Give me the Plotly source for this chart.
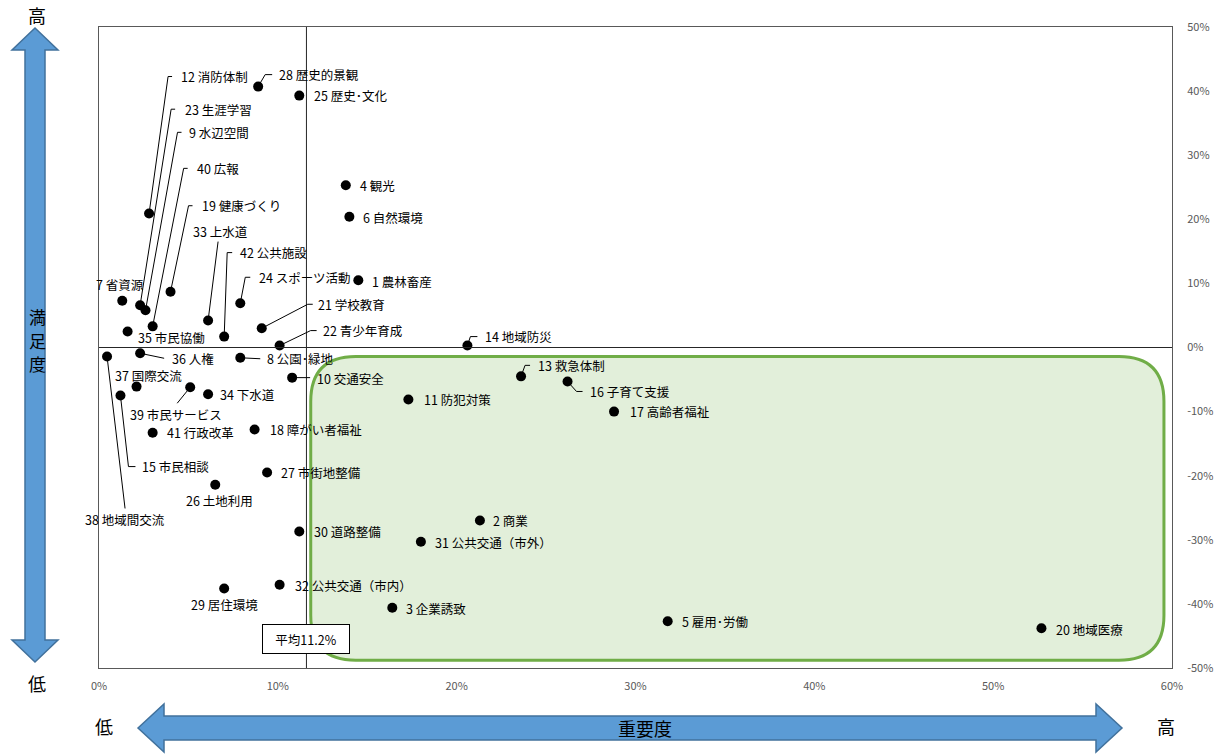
import plotly.graph_objects as go

# ---------------- data ----------------
item_no = list(range(1, 43))
item_name = [
    "農林畜産", "商業", "企業誘致", "観光", "雇用･労働", "自然環境", "省資源", "公園･緑地",
    "水辺空間", "交通安全", "防犯対策", "消防体制", "救急体制", "地域防災", "市民相談",
    "子育て支援", "高齢者福祉", "障がい者福祉", "健康づくり", "地域医療", "学校教育",
    "青少年育成", "生涯学習", "スポーツ活動", "歴史･文化", "土地利用", "市街地整備",
    "歴史的景観", "居住環境", "道路整備", "公共交通（市外）", "公共交通（市内）", "上水道",
    "下水道", "市民協働", "人権", "国際交流", "地域間交流", "市民サービス", "広報",
    "行政改革", "公共施設",
]
importance = [14.5, 21.3, 16.4, 13.8, 31.8, 14.0, 1.3, 7.9, 2.6, 10.8, 17.3, 2.8, 23.6, 20.6,
              1.2, 26.2, 28.8, 8.7, 4.0, 52.7, 9.1, 10.1, 2.3, 7.9, 11.2, 6.5, 9.4, 8.9, 7.0,
              11.2, 18.0, 10.1, 6.1, 6.1, 1.6, 2.3, 2.1, 0.45, 5.1, 3.0, 3.0, 7.0]
satisfaction = [10.5, -27.0, -40.6, 25.3, -42.7, 20.4, 7.3, -1.6, 5.8, -4.7, -8.1, 20.9, -4.5,
                0.3, -7.5, -5.3, -10.0, -12.8, 8.7, -43.8, 3.0, 0.3, 6.6, 6.9, 39.3, -21.4,
                -19.5, 40.7, -37.6, -28.7, -30.3, -37.0, 4.2, -7.3, 2.5, -0.9, -6.1, -1.4,
                -6.2, 3.3, -13.3, 1.7]
mean_line_x = 11.6
mean_label = "平均11.2%"
x_ticks = [0, 10, 20, 30, 40, 50, 60]
y_ticks = [-50, -40, -30, -20, -10, 0, 10, 20, 30, 40, 50]
highlight_x = [11.84, 59.55]
highlight_y = [-48.8, -1.4]
y_title_chars = ["満", "足", "度"]

# ---------------- label layout (screen px offsets from dot, y down) ----------------
# no: (anchor, dx, dy, leader polyline points or None)
label_layout = {
    1: ("left", 12, 1, None), 2: ("left", 11, 0, None), 3: ("left", 12, 1, None),
    4: ("left", 12, 0, None), 5: ("left", 12, 0, None), 6: ("left", 12, 1, None),
    7: ("center", -2, -16, None),
    8: ("left", 25, 1, [(0, 0), (20, 1)]),
    9: ("left", 41, -178, [(0, 0), (32, -178), (36, -178)]),
    10: ("left", 23, 1, [(0, 0), (18, 0)]),
    11: ("left", 14, 0, None),
    12: ("left", 30, -137, [(0, 0), (19, -137), (23, -137)]),
    13: ("left", 15, -11, [(0, 0), (4, -11), (9, -11)]),
    14: ("left", 16, -9, [(0, 0), (3, -9), (10, -9)]),
    15: ("left", 20, 71, [(0, 0), (8, 71), (15, 71)]),
    16: ("left", 20, 10, [(0, 0), (9, 10), (15, 10)]),
    17: ("left", 14, 0, None), 18: ("left", 13, 0, None),
    19: ("left", 29, -86, [(0, 0), (18, -86), (22, -86)]),
    20: ("left", 13, 1, None),
    21: ("left", 54, -24, [(0, 0), (46, -24), (51, -24)]),
    22: ("left", 41, -15, [(0, 0), (31, -15), (37, -15)]),
    23: ("left", 43, -196, [(0, 0), (31, -196), (35, -196)]),
    24: ("left", 17, -26, [(0, 0), (5, -26), (10, -26)]),
    25: ("left", 13, 0, None),
    26: ("center", 4, 16, None),
    27: ("left", 12, 0, None),
    28: ("left", 19, -12, [(0, 0), (7, -12), (14, -12)]),
    29: ("center", 0, 16, None),
    30: ("left", 13, 0, None), 31: ("left", 12, 1, None), 32: ("left", 13, 1, None),
    33: ("left", -17, -89, [(0, 0), (10, -79)]),
    34: ("left", 10, 0, None),
    35: ("left", 8, 6, None),
    36: ("left", 30, 5, [(0, 0), (24, 5)]),
    37: ("center", 12, -11, None),
    38: ("center", 18, 163, [(0, 0), (18, 152)]),
    39: ("center", -14, 27, [(0, 0), (-13, 16)]),
    40: ("left", 42, -158, [(0, 0), (31, -158), (35, -158)]),
    41: ("left", 12, 0, None),
    42: ("left", 14, -84, [(0, 0), (3, -84), (8, -84)]),
}

# ---------------- figure geometry ----------------
W, H = 1220, 754
ML, MR, MT, MB = 99, 48, 27, 86
PW, PH = W - ML - MR, H - MT - MB
JP = "Noto Sans CJK JP"


def pxp(x):
    return (x - ML) / PW


def pyp(y):
    return (H - MB - y) / PH


fig = go.Figure()

# highlight rounded rectangle
x_span = x_ticks[-1] - x_ticks[0]
y_span = y_ticks[-1] - y_ticks[0]
rx = 45 * x_span / PW
ry = 45 * y_span / PH
x0, x1 = highlight_x
y0, y1 = highlight_y
rr = (f"M {x0 + rx} {y1} L {x1 - rx} {y1} Q {x1} {y1} {x1} {y1 - ry} "
      f"L {x1} {y0 + ry} Q {x1} {y0} {x1 - rx} {y0} L {x0 + rx} {y0} "
      f"Q {x0} {y0} {x0} {y0 + ry} L {x0} {y1 - ry} Q {x0} {y1} {x0 + rx} {y1} Z")
fig.add_shape(type="path", path=rr, xref="x", yref="y", fillcolor="#E2EFDA",
              line=dict(color="#70AD47", width=3), layer="below")

# reference lines
fig.add_shape(type="line", x0=mean_line_x, x1=mean_line_x, y0=y_ticks[0], y1=y_ticks[-1],
              xref="x", yref="y", line=dict(color="#262626", width=1))
fig.add_shape(type="line", x0=x_ticks[0], x1=x_ticks[-1], y0=0, y1=0,
              xref="x", yref="y", line=dict(color="#262626", width=1))

# leaders
for i, no in enumerate(item_no):
    anchor, dx, dy, leader = label_layout[no]
    if leader:
        path = "M " + " L ".join(f"{a} {-b}" for a, b in leader)
        fig.add_shape(type="path", path=path, xref="x", yref="y",
                      xsizemode="pixel", ysizemode="pixel",
                      xanchor=importance[i], yanchor=satisfaction[i],
                      line=dict(color="black", width=1))

fig.add_trace(go.Scatter(
    x=importance, y=satisfaction, mode="markers",
    marker=dict(color="black", size=10), hoverinfo="text",
    text=[f"{n} {t}" for n, t in zip(item_no, item_name)], showlegend=False,
))

for i, no in enumerate(item_no):
    anchor, dx, dy, leader = label_layout[no]
    fig.add_annotation(x=importance[i], y=satisfaction[i], xref="x", yref="y",
                       text=f"{no} {item_name[i]}", showarrow=False,
                       xanchor=anchor, yanchor="middle", xshift=dx, yshift=-dy,
                       font=dict(family=JP, size=12.5, color="black"))

# mean label box
fig.add_annotation(x=mean_line_x, y=pyp(639), xref="x", yref="paper",
                   text=mean_label, showarrow=False, bgcolor="white",
                   xanchor="center", yanchor="middle", width=84, height=26,
                   bordercolor="black", borderwidth=1, borderpad=1,
                   font=dict(family=JP, size=12.5, color="black"))

# axis arrows
def poly(points):
    return "M " + " L ".join(f"{pxp(a)} {pyp(b)}" for a, b in points) + " Z"


v_arrow = [(35, 28), (58, 50), (45, 50), (45, 640), (58, 640), (35, 662), (12, 640),
           (25, 640), (25, 50), (12, 50)]
h_arrow = [(138, 728), (164, 704), (164, 716), (1096, 716), (1096, 704), (1122, 728),
           (1096, 752), (1096, 740), (164, 740), (164, 752)]
for pts in (v_arrow, h_arrow):
    fig.add_shape(type="path", path=poly(pts), xref="paper", yref="paper",
                  fillcolor="#5B9BD5", line=dict(color="#41719C", width=1.5))

axis_texts = [("高", 37, 15, 18), ("低", 37, 683, 18), ("低", 104, 726, 18),
              ("高", 1166, 726, 18), ("重要度", 645, 728, 18)]
for k, ch in enumerate(y_title_chars):
    axis_texts.append((ch, 37, 317 + 23 * k, 17))
for txt, x, y, fs in axis_texts:
    fig.add_annotation(x=pxp(x), y=pyp(y), xref="paper", yref="paper", text=txt,
                       showarrow=False, xanchor="center", yanchor="middle",
                       font=dict(family=JP, size=fs, color="black"))

fig.update_xaxes(range=[x_ticks[0], x_ticks[-1]], tickvals=x_ticks,
                 ticktext=[f"{v}%" for v in x_ticks], showgrid=False, zeroline=False,
                 showline=True, linecolor="#595959", linewidth=1, mirror=True,
                 ticks="", ticklabelstandoff=8, automargin=False,
                 tickfont=dict(family=JP, size=11, color="#595959"))
fig.update_yaxes(range=[y_ticks[0], y_ticks[-1]], tickvals=y_ticks,
                 ticktext=[f"{v}%" for v in y_ticks], side="right", showgrid=False,
                 zeroline=False, showline=True, linecolor="#595959", linewidth=1,
                 mirror=True, ticks="", ticklabelstandoff=12, automargin=False,
                 tickfont=dict(family=JP, size=11, color="#595959"))

fig.update_layout(width=W, height=H, autosize=False,
                  margin=dict(l=ML, r=MR, t=MT, b=MB, pad=0),
                  plot_bgcolor="white", paper_bgcolor="white")

fig.write_html("out.html", config={"displayModeBar": False},
               post_script="document.body.style.margin='0';")
